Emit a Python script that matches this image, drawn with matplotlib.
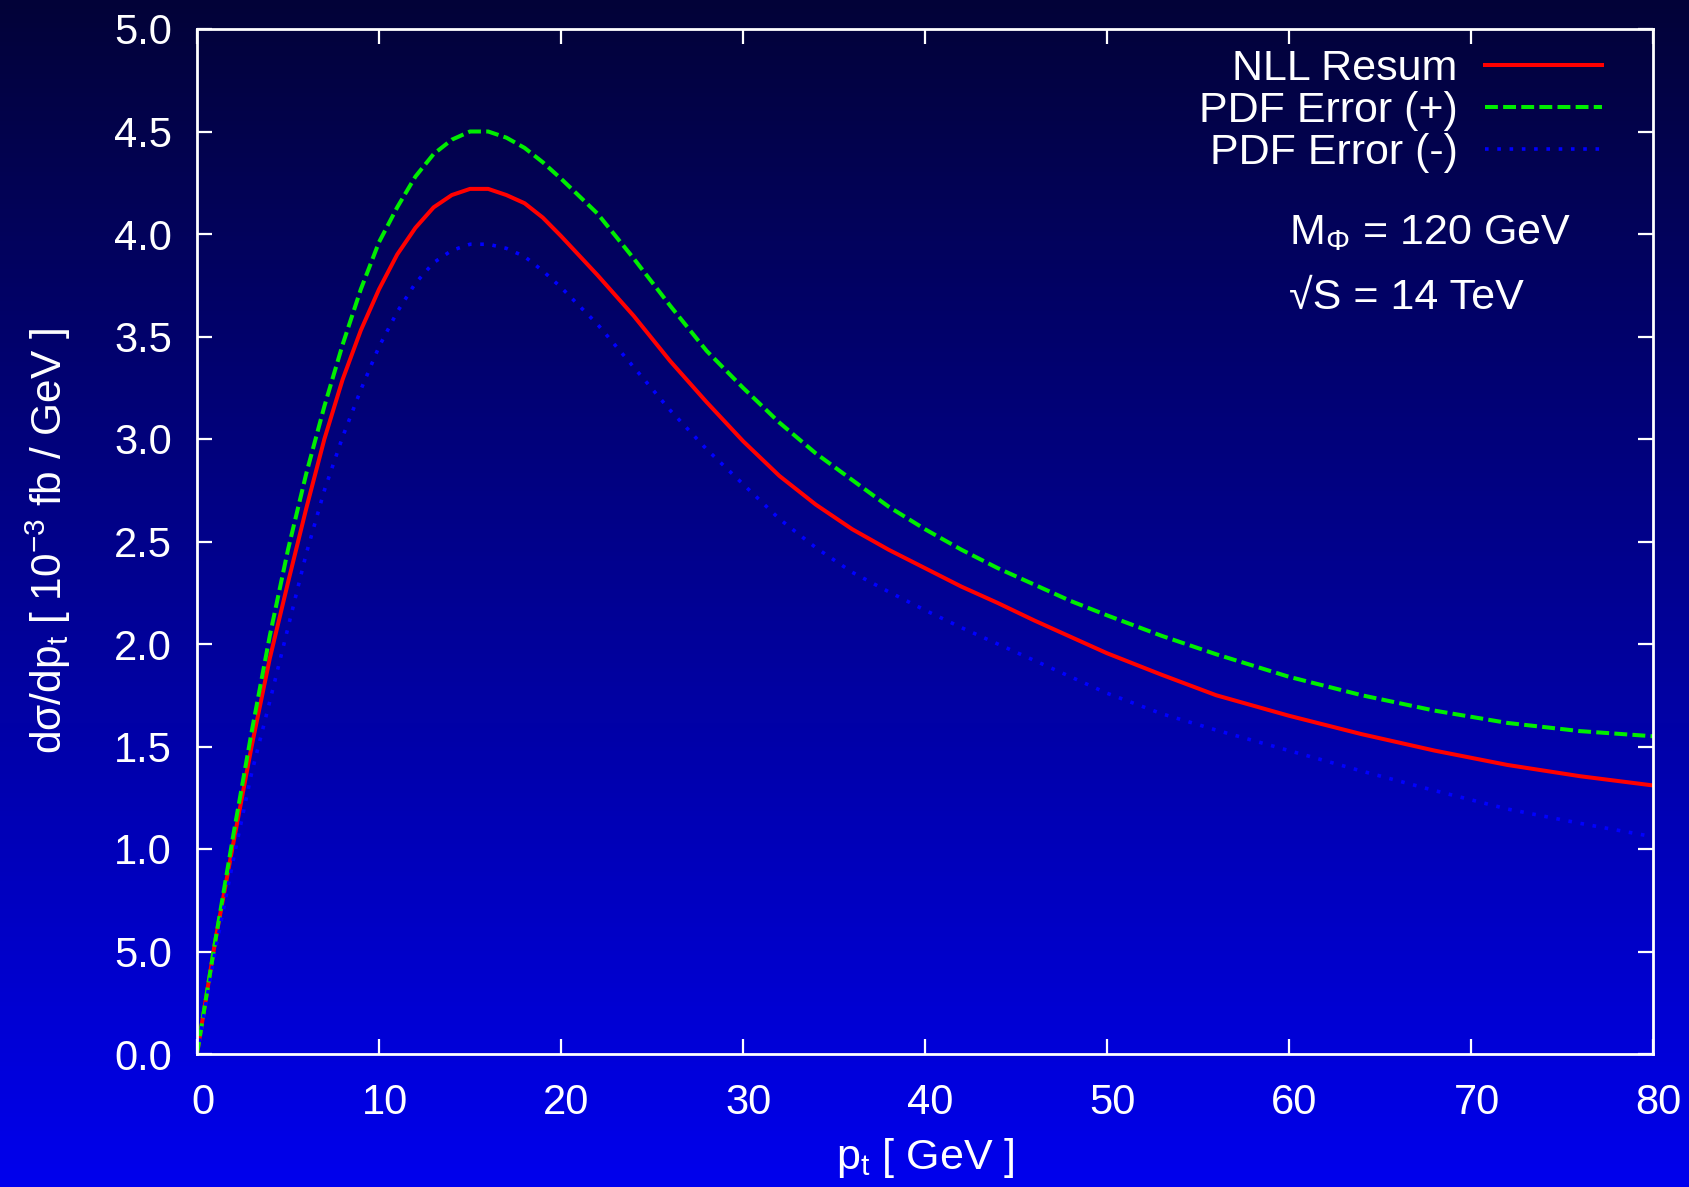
import numpy as np
import matplotlib
matplotlib.use("Agg")
import matplotlib.pyplot as plt
import matplotlib.transforms as mtransforms

plt.rcParams['font.family'] = ['Liberation Sans', 'DejaVu Sans']
plt.rcParams['mathtext.default'] = 'regular'

# values (pt in GeV, dsigma/dpt in 1e-3 fb/GeV)
pt = [0, 1, 2, 3, 4, 5, 6, 7, 8, 9, 10, 11, 12, 13, 14, 15, 16, 17, 18, 19, 20,
      22, 24, 26, 28, 30, 32, 34, 36, 38, 40, 42, 44, 46, 48, 50,
      53, 56, 60, 64, 68, 72, 76, 80]
nll = [0, 0.55, 1.03, 1.50, 1.93, 2.30, 2.66, 3.00, 3.29, 3.53, 3.73, 3.90, 4.03,
       4.13, 4.19, 4.22, 4.22, 4.19, 4.15, 4.08, 3.99,
       3.80, 3.60, 3.38, 3.18, 2.99, 2.82, 2.68, 2.56, 2.46, 2.37, 2.28, 2.20,
       2.115, 2.035, 1.955,
       1.85, 1.75, 1.65, 1.56, 1.48, 1.41, 1.355, 1.31]
pdf_plus = [0, 0.55, 1.07, 1.57, 2.04, 2.46, 2.83, 3.16, 3.46, 3.73, 3.96, 4.13,
            4.28, 4.39, 4.46, 4.50, 4.50, 4.47, 4.42, 4.35, 4.27,
            4.10, 3.88, 3.65, 3.43, 3.25, 3.08, 2.93, 2.80, 2.67, 2.56, 2.46,
            2.37, 2.29, 2.21, 2.14,
            2.04, 1.95, 1.84, 1.75, 1.675, 1.615, 1.575, 1.55]
pdf_minus = [0, 0.50, 0.95, 1.37, 1.72, 2.08, 2.44, 2.75, 3.01, 3.24, 3.45, 3.62,
             3.76, 3.86, 3.92, 3.95, 3.95, 3.93, 3.89, 3.82, 3.74,
             3.56, 3.35, 3.14, 2.95, 2.78, 2.61, 2.47, 2.35, 2.255, 2.165, 2.08,
             2.00, 1.92, 1.84, 1.76,
             1.66, 1.58, 1.48, 1.38, 1.285, 1.195, 1.125, 1.06]

xticks = [0, 10, 20, 30, 40, 50, 60, 70, 80]
yticks = [0.0, 0.5, 1.0, 1.5, 2.0, 2.5, 3.0, 3.5, 4.0, 4.5, 5.0]
ytick_labels = ['0.0', '5.0', '1.0', '1.5', '2.0', '2.5', '3.0', '3.5', '4.0', '4.5', '5.0']

fig = plt.figure(figsize=(16.89, 11.87), dpi=100)

# vertical gradient background, dark navy at top to bright blue at bottom
bg = fig.add_axes([0, 0, 1, 1], zorder=-1)
t = np.linspace(0, 1, 256)[:, None]
top = np.array([0.01, 0.01, 0.22])
bottom = np.array([0.0, 0.0, 0.93])
grad = top + (bottom - top) * t[..., None]
grad = np.repeat(grad, 2, axis=1)
bg.imshow(grad, aspect='auto', extent=[0, 1, 0, 1], origin='upper')
bg.set_axis_off()

ax = fig.add_axes([197 / 1689, 1 - 1054 / 1187, (1653 - 197) / 1689, (1054 - 29) / 1187])
ax.set_facecolor('none')

ax.plot(pt, nll, color='#ff0000', lw=2.9, label='NLL Resum')
ax.plot(pt, pdf_plus, color='#00ee00', lw=2.9, dashes=(3.2, 1.3), label='PDF Error (+)')
ax.plot(pt, pdf_minus, color='#0000ff', lw=2.6, dashes=(1.0, 2.4), label='PDF Error (-)')

ax.set_xlim(0, 80)
ax.set_ylim(0, 5)
ax.set_xticks(xticks)
ax.set_yticks(yticks)
ax.set_yticklabels(ytick_labels)

for s in ax.spines.values():
    s.set_color('white')
    s.set_linewidth(2)
ax.tick_params(direction='in', length=11, width=1.6, colors='white',
               labelsize=30, top=True, right=True)
ax.tick_params(axis='x', pad=21)
ax.tick_params(axis='y', pad=18)

# gnuplot puts the x tick labels a touch right of the ticks
shift = mtransforms.ScaledTranslation(4 / 72, 0, fig.dpi_scale_trans)
for lab in ax.get_xticklabels():
    lab.set_transform(lab.get_transform() + shift)

ax.set_xlabel('p$_t$ [ GeV ]', color='white', fontsize=31, va='center')
ax.xaxis.set_label_coords(0.5, -0.1015)
ax.set_ylabel('dσ/dp$_t$ [ 10$^{-3}$ fb / GeV ]', color='white', fontsize=30.5, va='center')
ax.yaxis.set_label_coords(-0.1023, 0.5)

leg = ax.legend(loc='upper right', frameon=False, markerfirst=False, fontsize=31,
                handlelength=2.72, handletextpad=0.65, labelspacing=0.05,
                borderaxespad=0.3, bbox_to_anchor=(0.986, 1.01))
for txt in leg.get_texts():
    txt.set_color('white')

ax.text(0.75, 0.801, r'M$_{\Phi}$ = 120 GeV', transform=ax.transAxes,
        color='white', fontsize=31, va='center')
ax.text(0.75, 0.738, '√S = 14 TeV', transform=ax.transAxes,
        color='white', fontsize=31, va='center')

fig.savefig('out.png', dpi=100)
